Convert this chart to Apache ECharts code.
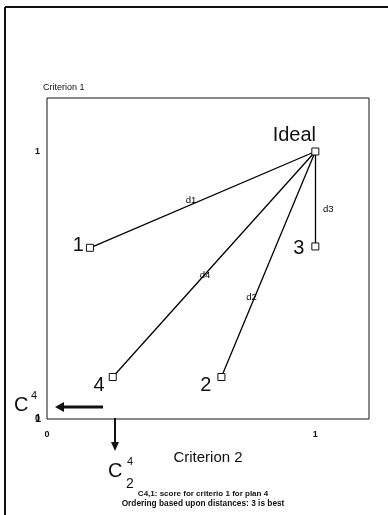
<!DOCTYPE html>
<html>
<head>
<meta charset="utf-8">
<script src="https://cdn.jsdelivr.net/npm/echarts@6/dist/echarts.min.js"></script>
<style>
  html, body { margin: 0; padding: 0; background: #fff; }
  #chart { width: 388px; height: 515px; }
</style>
</head>
<body>
<div id="chart"></div>
<script>
// plans scored on two criteria, plus the ideal point
const planNames = ['1', '2', '3', '4'];
const crit2Scores = [0.16, 0.65, 1.0, 0.245];   // x axis
const crit1Scores = [0.64, 0.157, 0.645, 0.157]; // y axis
const idealPoint = [1.0, 1.0];
const distNames = ['d1', 'd2', 'd3', 'd4'];
const xTicks = [0, 1];
const yTicks = [0, 1];

const FONT = '"Liberation Sans", Arial, sans-serif';

// where each plan number sits next to its square
const planLabelCfg = [
  { position: 'left', distance: 2, offset: [0, -2] },
  { position: 'left', distance: 4, offset: [-2, 8] },
  { position: 'left', distance: 7, offset: [0, 2] },
  { position: 'left', distance: 2, offset: [-2, 8] }
];
// where each distance label sits along its line (fraction from plan to ideal)
const distLabelCfg = [
  { t: 0.44, offset: [2, -5] },
  { t: 0.32, offset: [0, -7] },
  { t: 0.39, offset: [13, 0] },
  { t: 0.455, offset: [0, 1] }
];

const planData = planNames.map((n, i) => ({
  value: [crit2Scores[i], crit1Scores[i]],
  label: Object.assign({ show: true, formatter: n }, planLabelCfg[i])
}));

const lineData = planNames.map((n, i) => ({
  coords: [[crit2Scores[i], crit1Scores[i]], idealPoint]
}));

const distData = distNames.map((d, i) => {
  const t = distLabelCfg[i].t;
  return {
    value: [
      crit2Scores[i] + t * (idealPoint[0] - crit2Scores[i]),
      crit1Scores[i] + t * (idealPoint[1] - crit1Scores[i])
    ],
    label: { show: true, formatter: d, position: 'inside', offset: distLabelCfg[i].offset }
  };
});

const chart = echarts.init(document.getElementById('chart'));

chart.setOption({
  animation: false,
  backgroundColor: '#fff',
  textStyle: { fontFamily: FONT },
  grid: {
    left: 47, top: 98, right: 19, bottom: 96,
    show: true, borderColor: '#111', borderWidth: 1,
    outerBoundsMode: 'none'
  },
  xAxis: {
    type: 'value', min: 0, max: 1.2, interval: 1,
    name: 'Criterion 2', nameLocation: 'middle', nameGap: 31,
    nameTextStyle: { fontSize: 15, color: '#111', fontFamily: FONT },
    axisLine: { show: false }, axisTick: { show: false }, splitLine: { show: false },
    axisLabel: {
      color: '#111', fontSize: 9, fontWeight: 'bold', margin: 11,
      formatter: v => (xTicks.indexOf(v) >= 0 ? String(v) : '')
    }
  },
  yAxis: {
    type: 'value', min: 0, max: 1.2, interval: 1,
    name: 'Criterion 1', nameLocation: 'end', nameGap: 6,
    nameTextStyle: { fontSize: 9, color: '#111', align: 'left', padding: [0, 0, 0, -4], fontFamily: FONT },
    axisLine: { show: false }, axisTick: { show: false }, splitLine: { show: false },
    axisLabel: {
      color: '#111', fontSize: 9, fontWeight: 'bold', margin: 7,
      formatter: v => (yTicks.indexOf(v) >= 0 ? String(v) : '')
    }
  },
  series: [
    {
      type: 'lines',
      coordinateSystem: 'cartesian2d',
      data: lineData,
      lineStyle: { color: '#000', width: 1.3, opacity: 1 },
      symbol: 'none',
      z: 2
    },
    {
      type: 'scatter',
      data: planData,
      symbol: 'rect',
      symbolSize: 7,
      itemStyle: { color: '#fff', borderColor: '#111', borderWidth: 1, opacity: 1 },
      label: { color: '#111', fontSize: 20, fontFamily: FONT },
      z: 3
    },
    {
      type: 'scatter',
      data: [{
        value: idealPoint,
        label: { show: true, formatter: 'Ideal', position: 'top', distance: 3, offset: [-21, 1] }
      }],
      symbol: 'rect',
      symbolSize: 7,
      itemStyle: { color: '#fff', borderColor: '#111', borderWidth: 1, opacity: 1 },
      label: { color: '#111', fontSize: 20, fontFamily: FONT },
      z: 3
    },
    {
      type: 'scatter',
      data: distData,
      symbolSize: 0,
      itemStyle: { opacity: 1 },
      label: { color: '#000', fontSize: 9.5, fontFamily: FONT },
      z: 4
    }
  ],
  graphic: [
    // outer page frame
    { type: 'line', shape: { x1: 5, y1: 7, x2: 5, y2: 515 }, style: { stroke: '#111', lineWidth: 2 } },
    { type: 'line', shape: { x1: 5, y1: 7, x2: 388, y2: 7 }, style: { stroke: '#111', lineWidth: 2 } },
    // arrows out of the origin
    { type: 'line', shape: { x1: 103, y1: 407, x2: 62, y2: 407 }, style: { stroke: '#111', lineWidth: 3 } },
    { type: 'polygon', shape: { points: [[55, 407], [64, 402], [64, 412]] }, style: { fill: '#111' } },
    { type: 'line', shape: { x1: 115, y1: 418, x2: 115, y2: 443 }, style: { stroke: '#111', lineWidth: 2 } },
    { type: 'polygon', shape: { points: [[115, 451], [111, 442], [119, 442]] }, style: { fill: '#111' } },
    // C^4_1
    { type: 'text', x: 14, y: 395, style: { text: 'C', font: '20px ' + FONT, fill: '#111' } },
    { type: 'text', x: 31, y: 390, style: { text: '4', font: '11px ' + FONT, fill: '#111' } },
    { type: 'text', x: 35, y: 413, style: { text: '1', font: 'bold 11px ' + FONT, fill: '#111' } },
    // C^4_2
    { type: 'text', x: 108, y: 461, style: { text: 'C', font: '20px ' + FONT, fill: '#111' } },
    { type: 'text', x: 127, y: 456, style: { text: '4', font: '11px ' + FONT, fill: '#111' } },
    { type: 'text', x: 126, y: 477, style: { text: '2', font: '14px ' + FONT, fill: '#111' } },
    // caption
    { type: 'text', x: 203, y: 490, style: { text: 'C4,1: score for criterio 1 for plan 4', font: 'bold 8px ' + FONT, fill: '#111', textAlign: 'center' } },
    { type: 'text', x: 203, y: 500, style: { text: 'Ordering based upon distances: 3 is best', font: 'bold 8.3px ' + FONT, fill: '#111', textAlign: 'center' } }
  ]
});
</script>
</body>
</html>
